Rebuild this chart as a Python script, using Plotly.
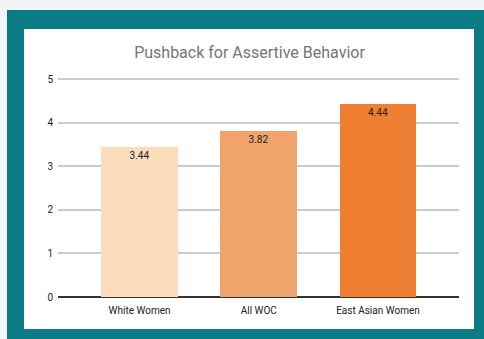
import plotly.graph_objects as go

# Chart data
categories = ["White Women", "All WOC", "East Asian Women"]
scores = [3.44, 3.82, 4.44]
bar_colors = ["#fbddbc", "#f0a36b", "#ed7e32"]
y_ticks = [0, 1, 2, 3, 4, 5]

W, H = 484, 339
TEAL = "#0b7c85"
PAGE = "#f1f5f8"

# Plot area in pixels (a little headroom above 5 so its gridline is drawn)
L, R, T, B = 58, 25, 75, 42
PW, PH = W - L - R, H - T - B


def px_x(x):
    return (x - L) / PW


def px_y(y):
    return (H - B - y) / PH


fig = go.Figure(
    go.Bar(
        x=categories,
        y=scores,
        marker=dict(color=bar_colors, line=dict(width=0)),
        width=0.645,
        text=[f"{v:.2f}" for v in scores],
        textposition="inside",
        insidetextanchor="end",
        textfont=dict(family="Roboto", size=10, color="#222222"),
        textangle=0,
        hoverinfo="skip",
    )
)

# Frame: teal border around a white card
fig.add_shape(type="rect", xref="paper", yref="paper",
              x0=px_x(7), x1=px_x(W + 5), y0=px_y(H + 5), y1=px_y(10),
              fillcolor=TEAL, line=dict(width=0), layer="below")
fig.add_shape(type="rect", xref="paper", yref="paper",
              x0=px_x(24), x1=px_x(474), y0=px_y(329), y1=px_y(29),
              fillcolor="white", line=dict(width=0), layer="below")

fig.update_layout(
    width=W,
    height=H,
    margin=dict(l=L, r=R, t=T, b=B, pad=0),
    paper_bgcolor=PAGE,
    plot_bgcolor="rgba(0,0,0,0)",
    showlegend=False,
    bargap=0,
    title=dict(
        text="Pushback for Assertive Behavior",
        font=dict(family="Roboto", size=16, color="#757575"),
        x=249.5 / W, xanchor="center",
        y=1 - 52 / H, yanchor="middle",
    ),
    xaxis=dict(
        range=[-0.684, 2.68],
        showgrid=False,
        showline=False,
        zeroline=False,
        ticks="",
        ticklabelstandoff=6,
        tickfont=dict(family="Roboto", size=10, color="#222222"),
        fixedrange=True,
    ),
    yaxis=dict(
        range=[0, 5.1],
        tickvals=y_ticks,
        showgrid=True,
        gridcolor="#cccccc",
        gridwidth=2,
        zeroline=True,
        zerolinecolor="#333333",
        zerolinewidth=2,
        showline=False,
        ticks="",
        ticklabelstandoff=4,
        tickfont=dict(family="Roboto", size=10, color="#222222"),
        fixedrange=True,
    ),
)

fig.write_html("out.html")
